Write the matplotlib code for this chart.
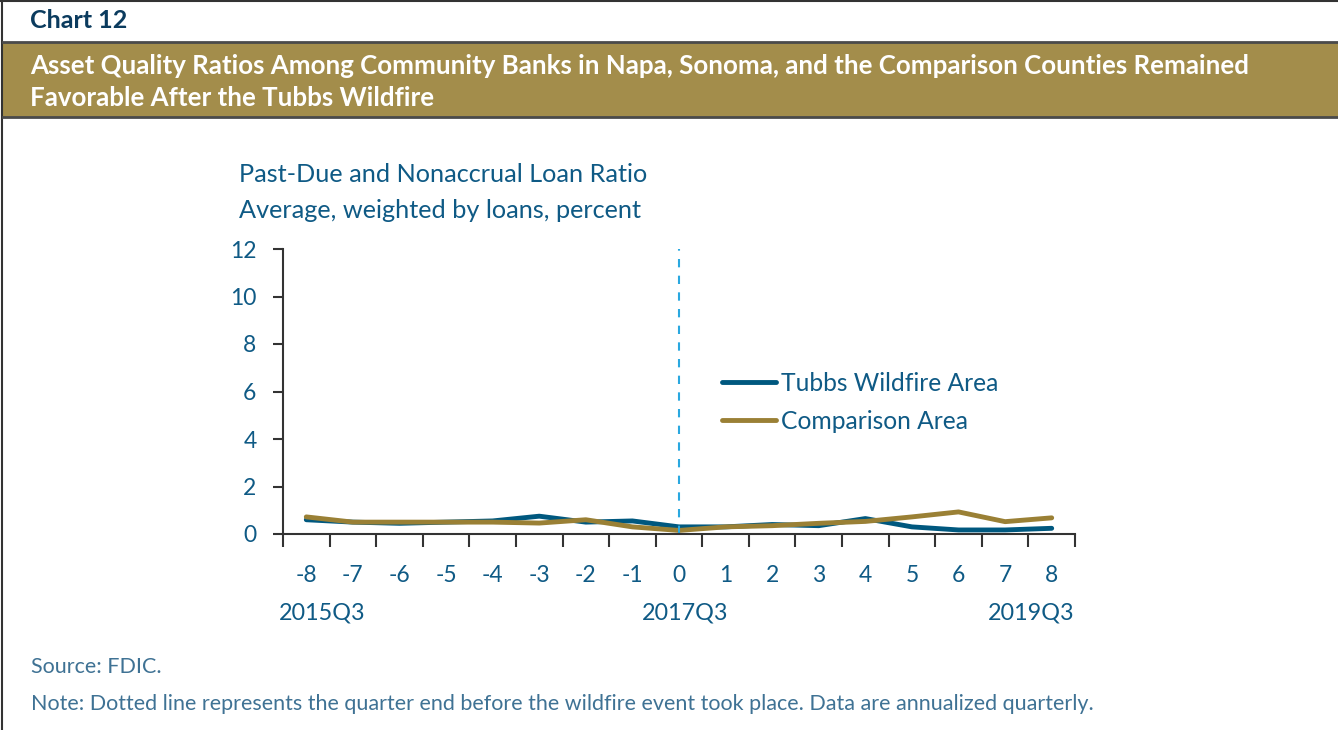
import matplotlib
matplotlib.use("Agg")
import matplotlib.pyplot as plt
import matplotlib.transforms as mtransforms
from matplotlib.patches import Rectangle
from matplotlib.lines import Line2D
import numpy as np

quarters = [-8, -7, -6, -5, -4, -3, -2, -1, 0, 1, 2, 3, 4, 5, 6, 7, 8]
tubbs = [0.60, 0.50, 0.45, 0.50, 0.55, 0.75, 0.50, 0.55, 0.30, 0.30, 0.40, 0.35, 0.65, 0.30, 0.17, 0.17, 0.24]
comparison = [0.72, 0.50, 0.50, 0.50, 0.50, 0.46, 0.60, 0.30, 0.15, 0.30, 0.35, 0.45, 0.53, 0.72, 0.93, 0.52, 0.68]
year_labels = ["2015Q3", "2017Q3", "2019Q3"]
yticks = [0, 2, 4, 6, 8, 10, 12]

BLUE = "#00587F"
GOLD = "#9A8035"
TEXT = "#0F5A85"
NOTE = "#3F7294"
BAND = "#A38D4B"
DASH = "#2AA8E0"
FONT = "Lato"

W, H = 1338, 730
fig = plt.figure(figsize=(W / 100, H / 100), dpi=100)
plt.rcParams['font.family'] = [FONT, 'DejaVu Sans']

def fx(px):
    return px / W

def fy(py):
    return 1 - py / H

# frame lines
fig.add_artist(Line2D([fx(2), fx(2)], [0, 1], color="#333333", lw=1.5, transform=fig.transFigure))
fig.add_artist(Line2D([0, 1], [fy(1), fy(1)], color="#333333", lw=1.5, transform=fig.transFigure))
# band
fig.add_artist(Rectangle((fx(3), fy(117)), 1, (117 - 42) / H, facecolor=BAND, edgecolor="none",
                         transform=fig.transFigure))
fig.add_artist(Line2D([fx(3), 1], [fy(42), fy(42)], color="#4A4A4A", lw=2, transform=fig.transFigure))
fig.add_artist(Line2D([fx(3), 1], [fy(117), fy(117)], color="#4A4A4A", lw=2, transform=fig.transFigure))

fig.text(fx(30), fy(21), "Chart 12", color="#0B3B5E", fontsize=18, fontweight="bold", va="center", ha="left")
fig.text(fx(30), fy(66), "Asset Quality Ratios Among Community Banks in Napa, Sonoma, and the Comparison Counties Remained",
         color="white", fontsize=18.6, fontweight="bold", va="center", ha="left")
fig.text(fx(30), fy(98), "Favorable After the Tubbs Wildfire",
         color="white", fontsize=18.6, fontweight="bold", va="center", ha="left")

fig.text(fx(239), fy(174), "Past-Due and Nonaccrual Loan Ratio", color=TEXT, fontsize=18.2, va="center", ha="left")
fig.text(fx(239), fy(211), "Average, weighted by loans, percent", color=TEXT, fontsize=18.2, va="center", ha="left")

fig.text(fx(31), fy(667), "Source: FDIC.", color=NOTE, fontsize=15.5, va="center", ha="left")
fig.text(fx(31), fy(704), "Note: Dotted line represents the quarter end before the wildfire event took place. Data are annualized quarterly.",
         color=NOTE, fontsize=15.5, va="center", ha="left")

ax = fig.add_axes([fx(283), fy(534), fx(1075) - fx(283), (534 - 249) / H])
ax.plot(quarters, tubbs, color=BLUE, lw=3.5, label="Tubbs Wildfire Area", solid_capstyle="round")
ax.plot(quarters, comparison, color=GOLD, lw=3.5, label="Comparison Area", solid_capstyle="round")
ax.axvline(0, color=DASH, lw=1.5, dashes=(4, 4), ymin=0, ymax=1)

ax.set_xlim(-8.5, 8.5)
ax.set_ylim(0, 12)
ax.set_yticks(yticks)
ax.set_xticks(quarters)
ax.set_xticklabels([str(q) for q in quarters])
ax.set_xticks(np.arange(-8.5, 8.6, 1.0), minor=True)
ax.tick_params(axis="x", which="major", length=0, pad=22, labelsize=16.5, labelcolor=TEXT)
ax.tick_params(axis="x", which="minor", length=9, width=1.5, color="#333333", direction="out")
ax.tick_params(axis="y", length=7, width=1.5, color="#333333", pad=12, labelsize=16.5, labelcolor=TEXT)
for s in ["top", "right"]:
    ax.spines[s].set_visible(False)
for s in ["left", "bottom"]:
    ax.spines[s].set_color("#333333")
    ax.spines[s].set_linewidth(1.5)
ax.patch.set_alpha(0)

offset = mtransforms.ScaledTranslation(0, -79 / 100, fig.dpi_scale_trans)
for lbl, xpos in zip(year_labels, [-7.66, 0.13, 7.55]):
    ax.text(xpos, 0, lbl, transform=ax.get_xaxis_transform() + offset, color=TEXT, fontsize=16.8,
            ha="center", va="center")

leg = ax.legend(loc="upper left", bbox_to_anchor=((722 - 283) / (1075 - 283), (534 - 372) / (534 - 249)),
                frameon=False, fontsize=17.7, handlelength=2.2, handletextpad=0.2, labelspacing=0.6,
                borderaxespad=0, borderpad=0)
for t in leg.get_texts():
    t.set_color(TEXT)

fig.savefig("out.png", dpi=100)
